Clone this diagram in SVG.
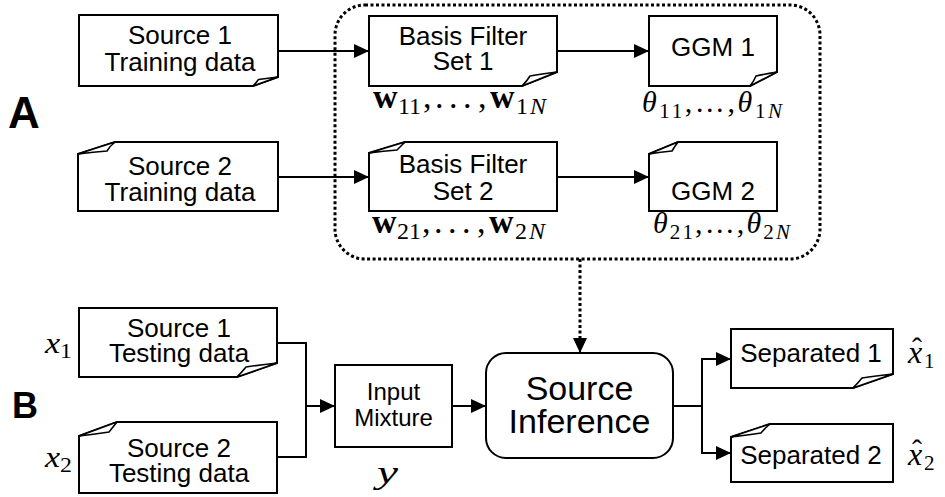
<svg xmlns="http://www.w3.org/2000/svg" width="945" height="497" viewBox="0 0 945 497">
<defs>
<style>
.box{fill:#fff;stroke:#000;stroke-width:2;stroke-linejoin:miter}
.flap{fill:#fff;stroke:#000;stroke-width:1.6;stroke-linejoin:round}
.t{font-family:"Liberation Sans",Arial,sans-serif;font-size:26px;fill:#000;text-anchor:middle}
.lab{font-family:"Liberation Sans",Arial,sans-serif;font-size:36px;font-weight:bold;fill:#000}
.m{font-family:"Liberation Serif","Times New Roman",serif;font-size:30px;fill:#000}
.mw{font-family:"Liberation Serif","Times New Roman",serif;font-size:34px;fill:#000}
.bw{font-weight:bold}
.i{font-style:italic}
.s{font-size:21px}
.s2{font-size:24px}
.c{fill:none;stroke:#000;stroke-width:2}
.dot{fill:none;stroke:#000;stroke-width:3;stroke-dasharray:3 2.5}
</style>
<marker id="ah" markerUnits="userSpaceOnUse" markerWidth="16" markerHeight="16" refX="15" refY="7" orient="auto">
<path d="M0,0 L15,7 L0,14 Z" fill="#000" stroke="none"/>
</marker>
</defs>
<rect width="945" height="497" fill="#fff"/>

<g id="panel-labels">
<text class="lab" x="8" y="128" style="font-size:44px">A</text>
<text class="lab" x="12" y="418">B</text>
</g>

<g id="training-group">
<rect class="dot" x="335" y="5" width="485" height="254" rx="30" ry="30"/>
</g>

<g id="connectors">
<path class="c" d="M278,51 H369" marker-end="url(#ah)"/>
<path class="c" d="M278,177 H369" marker-end="url(#ah)"/>
<path class="c" d="M557,51 H649" marker-end="url(#ah)"/>
<path class="c" d="M557,177 H649" marker-end="url(#ah)"/>
<path class="dot" d="M580,259 V345"/>
<path class="c" d="M580,345 V353" marker-end="url(#ah)"/>
<path class="c" d="M277,343 H306 V457 H277"/>
<path class="c" d="M306,406 H335" marker-end="url(#ah)"/>
<path class="c" d="M452,406 H486" marker-end="url(#ah)"/>
<path class="c" d="M673,406 H702"/>
<path class="c" d="M731,359 H702 V453 H731"/>
<path class="c" d="M702,359 H731" marker-end="url(#ah)"/>
<path class="c" d="M702,453 H731" marker-end="url(#ah)"/>
</g>

<g id="source1-training">
<path class="box" d="M79,15 H278 V77 L253,86 H79 Z"/>
<path class="flap" d="M278,77 Q266,78.5 258.5,79.5 Q256,83 253,86 Z"/>
<text class="t"><tspan x="180" y="44">Source 1</tspan><tspan x="180" y="71">Training data</tspan></text>
</g>

<g id="source2-training">
<path class="box" d="M78,154 L115,142 H278 V211 H78 Z"/>
<path class="flap" d="M78,154 Q94,152 107,151 Q110,146 115,142 Z"/>
<text class="t"><tspan x="180" y="175">Source 2</tspan><tspan x="180" y="201">Training data</tspan></text>
</g>

<g id="basis-filter-1">
<path class="box" d="M369,16 H557 V72 L522,86 H369 Z"/>
<path class="flap" d="M557,72 Q541,74 530,76 Q527,81 522,86 Z"/>
<text class="t"><tspan x="463" y="45">Basis Filter</tspan><tspan x="463" y="70">Set 1</tspan></text>
<text class="mw"><tspan class="bw" x="373" y="108">w</tspan><tspan class="s2" x="398" y="114">11</tspan><tspan x="423" y="108">,</tspan><tspan x="435">.</tspan><tspan x="449">.</tspan><tspan x="463">.</tspan><tspan x="478">,</tspan><tspan class="bw" x="490">w</tspan><tspan class="s2" x="516" y="114">1</tspan><tspan class="s2 i" x="530">N</tspan></text>
</g>

<g id="basis-filter-2">
<path class="box" d="M369,153 L405,142 H557 V211 H369 Z"/>
<path class="flap" d="M369,153 Q384,151 397,150 Q401,146 405,142 Z"/>
<text class="t"><tspan x="463" y="173">Basis Filter</tspan><tspan x="463" y="200">Set 2</tspan></text>
<text class="mw"><tspan class="bw" x="372" y="233">w</tspan><tspan class="s2" x="397" y="239">21</tspan><tspan x="422" y="233">,</tspan><tspan x="434">.</tspan><tspan x="448">.</tspan><tspan x="462">.</tspan><tspan x="477">,</tspan><tspan class="bw" x="489">w</tspan><tspan class="s2" x="515" y="239">2</tspan><tspan class="s2 i" x="529">N</tspan></text>
</g>

<g id="ggm-1">
<path class="box" d="M649,16 H777 V72 L750,86 H649 Z"/>
<path class="flap" d="M777,72 Q765,74 756,76 Q754,81 750,86 Z"/>
<text class="t" x="713" y="56">GGM 1</text>
<text class="m" x="642" y="112" textLength="140" lengthAdjust="spacing"><tspan class="i">θ</tspan><tspan class="s" dy="6">11</tspan><tspan dy="-6">,…,</tspan><tspan class="i">θ</tspan><tspan class="s" dy="6">1</tspan><tspan class="s i">N</tspan></text>
</g>

<g id="ggm-2">
<path class="box" d="M649,154 L678,142 H777 V211 H649 Z"/>
<path class="flap" d="M649,154 Q661,152 672,151 Q675,146 678,142 Z"/>
<text class="t" x="713" y="200">GGM 2</text>
<text class="m" x="653" y="233" textLength="137" lengthAdjust="spacing"><tspan class="i">θ</tspan><tspan class="s" dy="6">21</tspan><tspan dy="-6">,…,</tspan><tspan class="i">θ</tspan><tspan class="s" dy="6">2</tspan><tspan class="s i">N</tspan></text>
</g>

<g id="source1-testing">
<path class="box" d="M79,308 H277 V363 L237,377 H79 Z"/>
<path class="flap" d="M277,363 Q259,365 246,367 Q242,372 237,377 Z"/>
<text class="t"><tspan x="179" y="337">Source 1</tspan><tspan x="179" y="362">Testing data</tspan></text>
<text class="m" x="45" y="353" textLength="27" lengthAdjust="spacingAndGlyphs"><tspan class="i">x</tspan><tspan class="s" dy="5">1</tspan></text>
</g>

<g id="source2-testing">
<path class="box" d="M79,436 L117,422 H277 V493 H79 Z"/>
<path class="flap" d="M79,436 Q96,434 109,432 Q113,427 117,422 Z"/>
<text class="t"><tspan x="179" y="457">Source 2</tspan><tspan x="179" y="482">Testing data</tspan></text>
<text class="m" x="45" y="467" textLength="27" lengthAdjust="spacingAndGlyphs"><tspan class="i">x</tspan><tspan class="s" dy="5">2</tspan></text>
</g>

<g id="input-mixture">
<rect class="box" x="335" y="365" width="117" height="82"/>
<text class="t" style="font-size:24px"><tspan x="393.5" y="400">Input</tspan><tspan x="393.5" y="426">Mixture</tspan></text>
<text class="m i" x="377" y="483" style="font-size:32px" textLength="21" lengthAdjust="spacingAndGlyphs">y</text>
</g>

<g id="source-inference">
<rect class="box" x="486" y="353" width="187" height="105" rx="20" ry="20"/>
<text class="t" style="font-size:34px"><tspan x="579.5" y="400">Source</tspan><tspan x="579.5" y="433">Inference</tspan></text>
</g>

<g id="separated-1">
<path class="box" d="M731,329 H893 V374 L853,388 H731 Z"/>
<path class="flap" d="M893,374 Q875,376 862,378 Q858,383 853,388 Z"/>
<text class="t" x="811" y="362">Separated 1</text>
<text class="m"><tspan x="912" y="358">ˆ</tspan><tspan class="i" x="908" y="363" style="font-size:32px">x</tspan><tspan class="s" x="924" y="368">1</tspan></text>
</g>

<g id="separated-2">
<path class="box" d="M731,437 L770,424 H893 V482 H731 Z"/>
<path class="flap" d="M731,437 Q748,435 761,433 Q765,428 770,424 Z"/>
<text class="t" x="811" y="464">Separated 2</text>
<text class="m"><tspan x="912" y="460">ˆ</tspan><tspan class="i" x="908" y="465" style="font-size:32px">x</tspan><tspan class="s" x="924" y="470">2</tspan></text>
</g>
</svg>
